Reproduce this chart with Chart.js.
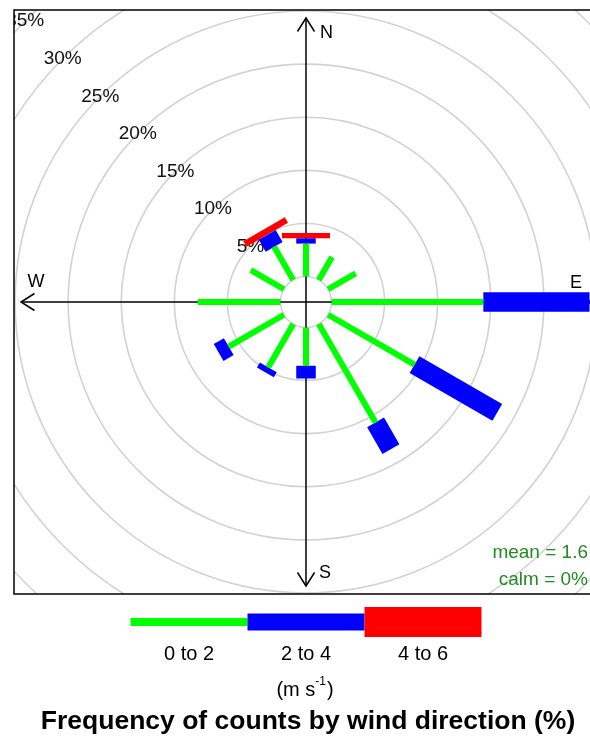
<!DOCTYPE html>
<html>
<head>
<meta charset="utf-8">
<script src="https://cdn.jsdelivr.net/npm/chart.js@4.4.1/dist/chart.umd.min.js"></script>
<style>
  html, body { margin: 0; padding: 0; overflow: hidden; background: #fff; }
  #wrap { width: 590px; height: 738px; overflow: hidden; }
  canvas { display: block; }
</style>
</head>
<body>
<div id="wrap"><canvas id="roseChart" width="600" height="738"></canvas></div>
<script>
// wind directions (degrees) and frequency (%) per speed band
const directions = [0, 30, 60, 90, 120, 150, 180, 210, 240, 270, 300, 330];
const speed0to2 = [3.1, 2.5, 3.0, 14.3, 9.4, 10.7, 3.6, 4.7, 6.0, 7.8, 3.6, 3.6];
const speed2to4 = [0.5, 0, 0, 10.0, 9.0, 2.9, 1.2, 0.55, 1.1, 0, 0, 1.3];
const speed4to6 = [0.5, 0, 0, 0, 0, 0, 0, 0, 0, 0, 0, 0.6];
const speedLabels = ["0 to 2", "2 to 4", "4 to 6"];
const ringValues = [5, 10, 15, 20, 25, 30, 35];
const meanSpeed = 1.6;
const calmPct = 0;

const offset = 2.4;   // radius of the calm circle, in %
const limit = 27.5;
const bandColors = ["#00ff00", "#0000ff", "#ff0000"];
const bandWidths = [6, 19.5, 48];
const legendHeights = [8, 17, 30];
const FONT = '"Liberation Sans", Arial, sans-serif';

function polar(r, deg) {
  const a = deg * Math.PI / 180;
  return { x: r * Math.sin(a), y: r * Math.cos(a) };
}

const datasets = [];
const bands = [speed0to2, speed2to4, speed4to6];
directions.forEach((d, i) => {
  let start = 0;
  bands.forEach((band, b) => {
    const v = band[i];
    if (v > 0) {
      datasets.push({
        data: [polar(offset + start, d), polar(offset + start + v, d)],
        showLine: true,
        borderColor: bandColors[b],
        backgroundColor: bandColors[b],
        borderWidth: bandWidths[b],
        borderCapStyle: "butt",
        pointRadius: 0,
        fill: false,
      });
    }
    start += v;
  });
});

function arrowHead(ctx, x, y, dx, dy) {
  // dx, dy: unit vector pointing back along the axis
  const len = 13.5, side = 8.5;
  ctx.beginPath();
  ctx.moveTo(x + dx * len - dy * side, y + dy * len + dx * side);
  ctx.lineTo(x, y);
  ctx.lineTo(x + dx * len + dy * side, y + dy * len - dx * side);
  ctx.stroke();
}

const rosePlugin = {
  id: "rose",
  beforeDatasetsDraw(chart) {
    const { ctx, chartArea: ca, scales } = chart;
    const sx = scales.x, sy = scales.y;
    const cx = sx.getPixelForValue(0), cy = sy.getPixelForValue(0);
    const k = sx.getPixelForValue(1) - cx;

    ctx.save();
    ctx.beginPath();
    ctx.rect(ca.left, ca.top, ca.right - ca.left, ca.bottom - ca.top);
    ctx.clip();

    // rings
    ctx.strokeStyle = "#d2d2d2";
    ctx.lineWidth = 1.6;
    [0].concat(ringValues).forEach(v => {
      ctx.beginPath();
      ctx.arc(cx, cy, (offset + v) * k, 0, Math.PI * 2);
      ctx.stroke();
    });

    // ring labels along the NW diagonal
    ctx.fillStyle = "#111";
    ctx.font = "19px " + FONT;
    ctx.textAlign = "center";
    ctx.textBaseline = "middle";
    ringValues.forEach(v => {
      const p = polar(offset + v, 315);
      ctx.fillText(v + "%", sx.getPixelForValue(p.x), sy.getPixelForValue(p.y));
    });

    // axes with arrows
    ctx.strokeStyle = "#000";
    ctx.lineWidth = 1.5;
    const top = ca.top + 8, bottom = ca.bottom - 8;
    const left = ca.left + 7, right = ca.right - 7;
    ctx.beginPath();
    ctx.moveTo(cx, top); ctx.lineTo(cx, bottom);
    ctx.moveTo(left, cy); ctx.lineTo(right, cy);
    ctx.stroke();
    arrowHead(ctx, cx, top, 0, 1);
    arrowHead(ctx, cx, bottom, 0, -1);
    arrowHead(ctx, left, cy, 1, 0);
    arrowHead(ctx, right, cy, -1, 0);

    // compass labels
    ctx.fillStyle = "#000";
    ctx.font = "18px " + FONT;
    ctx.textAlign = "left";
    ctx.fillText("N", cx + 14, ca.top + 23);
    ctx.fillText("S", cx + 13, ca.bottom - 21);
    ctx.textAlign = "center";
    ctx.fillText("W", ca.left + 22, cy - 20);
    ctx.fillText("E", ca.right - 22, cy - 19);

    // mean / calm
    ctx.fillStyle = "#228b22";
    ctx.font = "19px " + FONT;
    ctx.textAlign = "right";
    ctx.fillText("mean = " + meanSpeed, 588, ca.bottom - 41);
    ctx.fillText("calm = " + calmPct + "%", 588, ca.bottom - 14);
    ctx.restore();
  },
  afterDraw(chart) {
    const { ctx, chartArea: ca } = chart;
    ctx.save();
    // frame
    ctx.strokeStyle = "#000";
    ctx.lineWidth = 1.5;
    ctx.strokeRect(ca.left, ca.top, ca.right - ca.left, ca.bottom - ca.top);

    // key
    const segW = 117, kx = 306 - segW * 1.5, ky = 622;
    speedLabels.forEach((lab, i) => {
      const h = legendHeights[i];
      ctx.fillStyle = bandColors[i];
      ctx.fillRect(kx + i * segW, ky - h / 2, segW, h);
      ctx.fillStyle = "#000";
      ctx.font = "20px " + FONT;
      ctx.textAlign = "center";
      ctx.textBaseline = "middle";
      ctx.fillText(lab, kx + (i + 0.5) * segW, 654);
    });

    // units (m s^-1)
    ctx.textAlign = "left";
    ctx.textBaseline = "middle";
    ctx.font = "20px " + FONT;
    const a = "(m s", c = ")";
    const wa = ctx.measureText(a).width, wc = ctx.measureText(c).width;
    ctx.font = "12px " + FONT;
    const wb = ctx.measureText("-1").width;
    let ux = 305 - (wa + wb + 1 + wc) / 2;
    ctx.font = "20px " + FONT;
    ctx.fillText(a, ux, 690);
    ctx.font = "12px " + FONT;
    ctx.fillText("-1", ux + wa, 682);
    ctx.font = "20px " + FONT;
    ctx.fillText(c, ux + wa + wb + 1, 690);

    // title
    ctx.font = "bold 26.5px " + FONT;
    ctx.textAlign = "center";
    ctx.textBaseline = "alphabetic";
    ctx.fillText("Frequency of counts by wind direction (%)", 308, 729);
    ctx.restore();
  },
};

new Chart(document.getElementById("roseChart"), {
  type: "scatter",
  data: { datasets },
  options: {
    responsive: false,
    animation: false,
    layout: { padding: { left: 14, top: 10, right: 2, bottom: 144 } },
    plugins: { legend: { display: false }, tooltip: { enabled: false } },
    scales: {
      x: { type: "linear", min: -limit, max: limit, display: false },
      y: { type: "linear", min: -limit, max: limit, display: false },
    },
  },
  plugins: [rosePlugin],
});
</script>
</body>
</html>
